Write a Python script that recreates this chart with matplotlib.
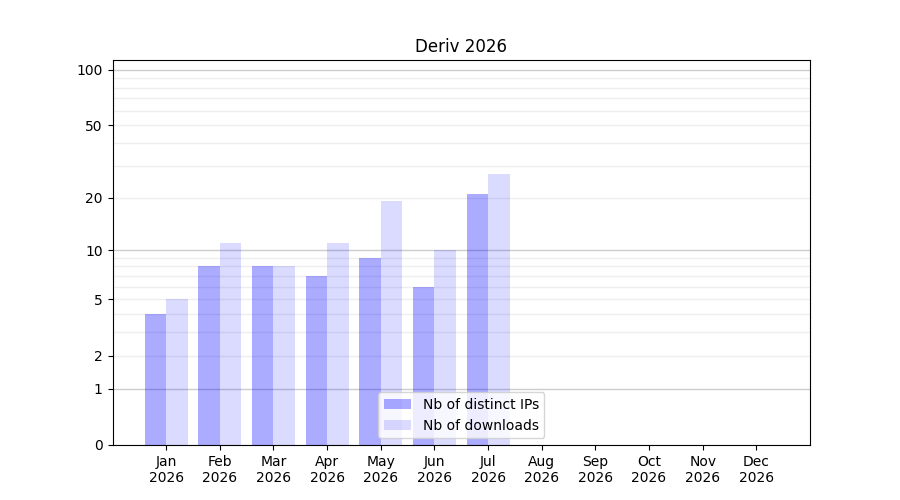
import numpy as np
import matplotlib
matplotlib.use('Agg')
import matplotlib.pyplot as plt
from matplotlib.ticker import FixedLocator

months = ['Jan', 'Feb', 'Mar', 'Apr', 'May', 'Jun', 'Jul', 'Aug', 'Sep', 'Oct', 'Nov', 'Dec']
year = '2026'
ips = [4, 8, 8, 7, 9, 6, 21]
downloads = [5, 11, 8, 11, 19, 10, 27]
yticks = [0, 1, 2, 5, 10, 20, 50, 100]

def fwd(v):
    return np.log10(np.maximum(v, 0) + 1)

def inv(v):
    return 10 ** v - 1

fig, ax = plt.subplots(figsize=(9, 5), dpi=100)
x = np.arange(len(ips))
w = 0.4
ax.bar(x - w / 2, ips, width=w, color='blue', alpha=0.33, label='Nb of distinct IPs')
ax.bar(x + w / 2, downloads, width=w, color='blue', alpha=0.14, label='Nb of downloads')

ax.set_yscale('function', functions=(fwd, inv))
ax.set_ylim(0, 113)
ax.set_xlim(-1, 12)
ax.set_yticks(yticks)
ax.set_yticklabels([str(t) for t in yticks])
minor = list(range(2, 10)) + list(range(20, 100, 10))
ax.yaxis.set_minor_locator(FixedLocator(minor))
ax.tick_params(axis='y', which='minor', length=0)
ax.grid(True, axis='y', which='major', color='#cccccc', linewidth=1)
ax.grid(True, axis='y', which='minor', color='#eeeeee', linewidth=1)
ax.set_axisbelow(True)
# only 1, 10, 100 get the darker line
for gl, t in zip(ax.yaxis.get_gridlines(), yticks):
    if t not in (1, 10, 100):
        gl.set_color('#eeeeee')

ax.set_xticks(np.arange(12))
ax.set_xticklabels([m + '\n' + year for m in months])
ax.set_title('Deriv 2026')
ax.legend(loc='lower center')
fig.savefig('out.png')
